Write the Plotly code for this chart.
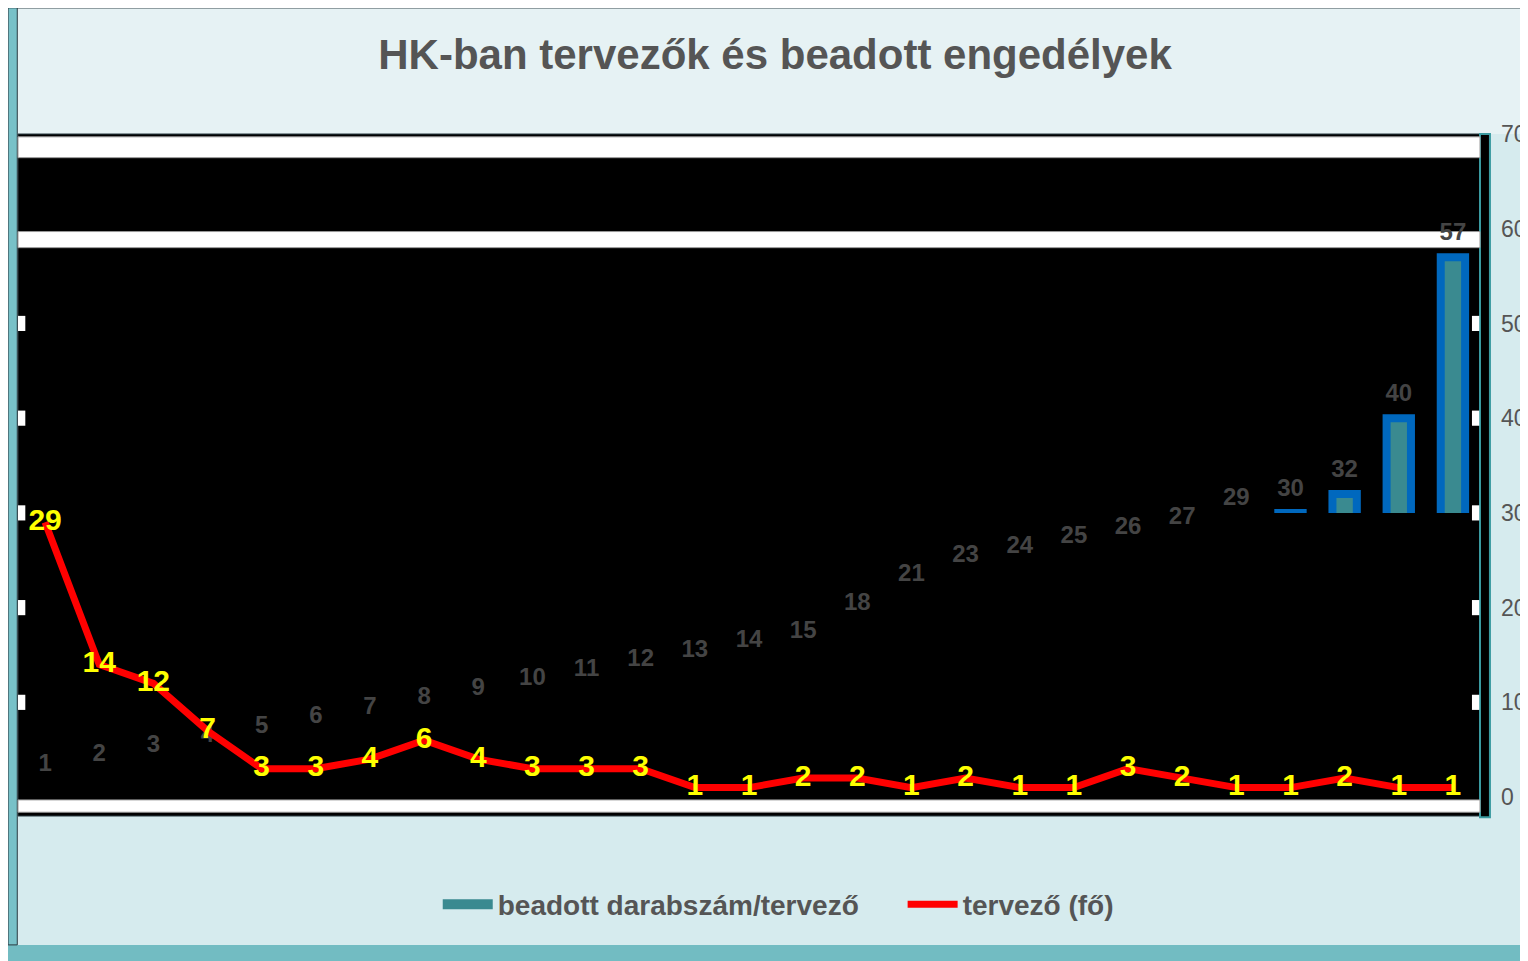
import plotly.graph_objects as go

# beadott darabszám / tervező (categories and bar values)
beadott = [1, 2, 3, 4, 5, 6, 7, 8, 9, 10, 11, 12, 13, 14, 15, 18, 21, 23, 24, 25, 26, 27, 29, 30, 32, 40, 57]
# tervezők száma (fő)
tervezo = [29, 14, 12, 7, 3, 3, 4, 6, 4, 3, 3, 3, 1, 1, 2, 2, 1, 2, 1, 1, 3, 2, 1, 1, 2, 1, 1]
kategoriak = [str(v) for v in beadott]

y_ticks = [0, 10, 20, 30, 40, 50, 60, 70]

FONT = "Liberation Sans, Arial, sans-serif"
GREY = "#555555"
NB = "\u00a0"

fig = go.Figure()

# bars live on their own axis that only shows values above 30 (as in the original)
fig.add_trace(go.Bar(x=kategoriak, y=beadott, yaxis="y2",
                     showlegend=False,
                     width=0.45,
                     marker=dict(color="#3A8A90", line=dict(color="#0068BE", width=8)),
                     hoverinfo="skip"))

# bar value labels (invisible markers push the text up a little)
fig.add_trace(go.Scatter(x=kategoriak, y=beadott, mode="markers+text",
                         text=[str(v) for v in beadott],
                         textposition="top center",
                         marker=dict(size=16, opacity=0),
                         textfont=dict(family=FONT, size=24, color="#444444", weight="bold"),
                         showlegend=False, cliponaxis=False, hoverinfo="skip"))

# legend entry for the bars (wide teal swatch)
fig.add_trace(go.Scatter(x=[None], y=[None], mode="lines",
                         name="beadott darabszám/tervező" + NB * 5,
                         line=dict(color="#3A8A90", width=16)))

fig.add_trace(go.Scatter(x=kategoriak, y=tervezo, mode="lines+text",
                         name="tervező (fő)",
                         line=dict(color="#FF0000", width=7),
                         text=[str(v) for v in tervezo],
                         textposition="middle center",
                         textfont=dict(family=FONT, size=30, color="#FFFF00", weight="bold"),
                         cliponaxis=False))

shapes = [
    # light top region
    dict(type="rect", xref="paper", yref="paper", x0=-0.02, x1=1.04, y0=1.0, y1=1.185,
         fillcolor="#e6f2f4", line_width=0, layer="below"),
    dict(type="line", xref="paper", yref="paper", x0=-0.0068, x1=1.04, y0=1.185, y1=1.185,
         line=dict(color="#3a4a50", width=1.5), layer="below"),
    # bottom teal bar
    dict(type="rect", xref="paper", yref="paper", x0=-0.02, x1=1.04, y0=-0.25, y1=-0.189,
         fillcolor="#72BCC2", line_width=0, layer="below"),
    # left strip
    dict(type="rect", xref="paper", yref="paper", x0=-0.0068, x1=-0.0005, y0=-0.189, y1=1.185,
         fillcolor="#78C1C8", line=dict(color="#2a3a40", width=1), layer="below"),
    # black plot area
    dict(type="rect", xref="paper", yref="paper", x0=0, x1=1, y0=0, y1=1,
         fillcolor="#000000", line=dict(color="#2a3a40", width=1), layer="below"),
    # right frame
    dict(type="rect", xref="paper", yref="paper", x0=1.0, x1=1.0068, y0=-0.002, y1=1.0,
         fillcolor="#000000", line=dict(color="#3A9AA0", width=2), layer="below"),
    # white bands in the plot area
    dict(type="rect", xref="paper", yref="y", x0=0, x1=1, y0=67.5, y1=69.7,
         fillcolor="#FFFFFF", line=dict(color="#999999", width=1), layer="below"),
    dict(type="rect", xref="paper", yref="y", x0=0, x1=1, y0=58.0, y1=59.7,
         fillcolor="#FFFFFF", line=dict(color="#999999", width=1), layer="below"),
    dict(type="rect", xref="paper", yref="y", x0=0, x1=1, y0=-1.6, y1=-0.3,
         fillcolor="#FFFFFF", line=dict(color="#999999", width=1), layer="below"),
]
# small white notches at the gridline positions on both sides
for t in y_ticks[1:6]:
    for x0, x1 in [(0.0, 0.005), (0.9945, 0.9995)]:
        shapes.append(dict(type="rect", xref="paper", yref="y", x0=x0, x1=x1,
                           y0=t - 0.8, y1=t + 0.8, fillcolor="#FFFFFF", line_width=0,
                           layer="below"))

# the page adds an 8px body margin, so margins are trimmed by that much
fig.update_layout(
    width=1528, height=961,
    margin=dict(l=10, r=56, t=126, b=153),
    paper_bgcolor="#d6ebee",
    plot_bgcolor="rgba(0,0,0,0)",
    font=dict(family=FONT, color=GREY),
    title=dict(text="HK-ban tervezők és beadott engedélyek",
               x=0.502, xanchor="center", y=0.952, yanchor="middle",
               font=dict(family=FONT, size=42, color=GREY, weight="bold")),
    xaxis=dict(type="category", showticklabels=False, showgrid=False,
               zeroline=False, showline=False, range=[-0.5, len(kategoriak) - 0.5]),
    yaxis=dict(range=[-2, 70], side="right", tickvals=y_ticks, showgrid=False,
               zeroline=False, showline=False, ticklabelstandoff=20, automargin=False,
               tickfont=dict(family=FONT, size=23, color=GREY)),
    yaxis2=dict(range=[30, 70], domain=[32 / 72, 1], anchor="x", visible=False,
                showgrid=False, zeroline=False, automargin=False),
    legend=dict(orientation="h", x=0.52, xanchor="center", y=-0.13, yanchor="middle",
                bgcolor="rgba(0,0,0,0)", itemwidth=50,
                font=dict(family=FONT, size=28, color=GREY, weight="bold"),
                traceorder="normal"),
    shapes=shapes,
    showlegend=True,
)

fig.write_html("out.html")
